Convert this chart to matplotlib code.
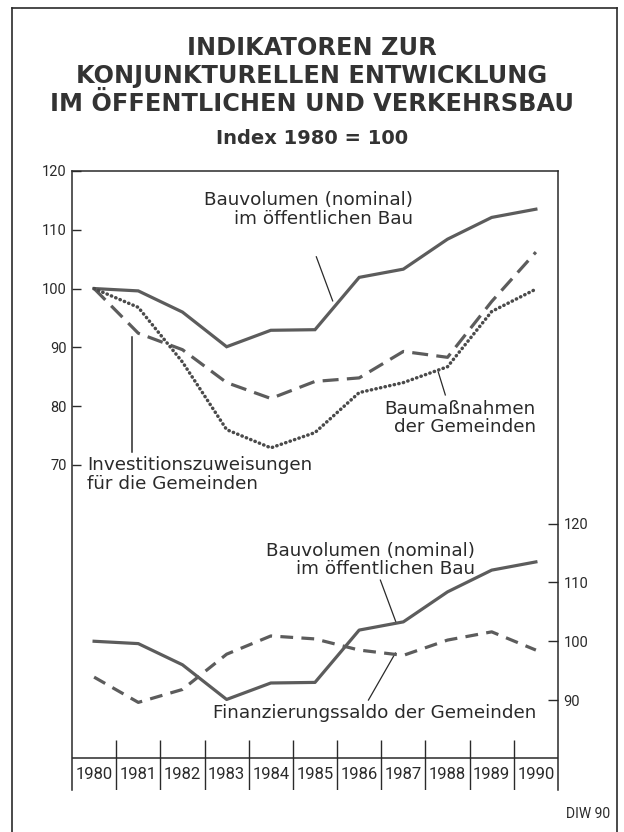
import matplotlib
matplotlib.use("Agg")
import matplotlib.pyplot as plt
from matplotlib.lines import Line2D

# index values, 1980 = 100
years = ["1980", "1981", "1982", "1983", "1984", "1985",
         "1986", "1987", "1988", "1989", "1990"]
bauvolumen = [100, 99.6, 96.0, 90.1, 92.9, 93.0, 101.9, 103.3, 108.4, 112.1, 113.5]
baumassnahmen = [100, 92.4, 89.6, 84.0, 81.3, 84.2, 84.8, 89.3, 88.3, 97.8, 106.2]
investitionen = [100, 96.8, 87.5, 76.0, 72.9, 75.5, 82.3, 84.0, 86.7, 96.1, 99.9]
finanzierungssaldo = [93.9, 89.6, 91.8, 97.8, 100.9, 100.4, 98.5, 97.6, 100.2, 101.6, 98.5]

left_ticks = [70, 80, 90, 100, 110, 120]
right_ticks = [90, 100, 110, 120]

LINE = "#5c5c5c"
TEXT = "#2a2a2a"
FONT = "DejaVu Sans"
NUM = "Roboto"

fig = plt.figure(figsize=(6.24, 8.32), dpi=100)
fig.patch.set_facecolor("white")

ax = fig.add_axes([0.1154, 0.0505, 0.7788, 0.744])
x = list(range(len(years)))
ax.set_xlim(-0.5, 10.5)
ax.set_ylim(14.7, 120)

# lower panel shares the axes, shifted by 60 index points
ax2 = ax.twinx()
ax2.set_ylim(74.7, 180)

ax.plot(x, bauvolumen, color=LINE, lw=2.3, solid_joinstyle="miter")
ax.plot(x, baumassnahmen, color=LINE, lw=2.3, dashes=(5, 2.6))
ax.plot(x, investitionen, color="#4a4a4a", lw=2.5, dashes=(0.1, 1.25),
        dash_capstyle="round")
ax2.plot(x, bauvolumen, color=LINE, lw=2.3)
ax2.plot(x, finanzierungssaldo, color=LINE, lw=2.3, dashes=(4, 2.6))

ax.spines["bottom"].set_visible(False)
for s in ax2.spines.values():
    s.set_visible(False)
for s in ["top", "left", "right"]:
    ax.spines[s].set_color(TEXT)
    ax.spines[s].set_linewidth(1.1)

ax.set_xticks([])
ax.set_yticks(left_ticks)
ax.set_yticklabels([str(t) for t in left_ticks], fontfamily=NUM, fontsize=10.5, color=TEXT)
ax.tick_params(axis="y", direction="in", length=6.5, width=1, color=TEXT, pad=4)

ax2.set_yticks(right_ticks)
ax2.set_yticklabels([str(t) for t in right_ticks], fontfamily=NUM, fontsize=10.5, color=TEXT)
ax2.tick_params(axis="y", direction="in", length=7.5, width=1, color=TEXT, pad=4)

# year axis with separators
ax.axhline(20.2, color=TEXT, lw=1.1)
ax.vlines([i + 0.5 for i in range(len(years) - 1)], 14.7, 23.2, color=TEXT, lw=1)
for i, yr in enumerate(years):
    ax.text(i, 17.3, yr, ha="center", va="center", fontfamily=NUM,
            fontsize=12, color=TEXT)

# annotations
txt = dict(fontfamily=FONT, fontsize=13.2, color=TEXT, linespacing=1.05)
ax.text(7.22, 113.5, "Bauvolumen (nominal)\nim öffentlichen Bau",
        ha="right", va="center", multialignment="right", **txt)
ax.plot([5.03, 5.40], [105.4, 97.9], color=TEXT, lw=0.9)

ax.text(10.0, 78.0, "Baumaßnahmen\nder Gemeinden",
        ha="right", va="center", multialignment="right", **txt)
ax.plot([7.79, 7.95], [85.8, 81.9], color=TEXT, lw=0.9)

ax.text(-0.16, 68.4, "Investitionszuweisungen\nfür die Gemeinden",
        ha="left", va="center", multialignment="left", **txt)
ax.plot([0.86, 0.86], [91.8, 72.2], color=TEXT, lw=1.1)

ax.text(8.62, 53.8, "Bauvolumen (nominal)\nim öffentlichen Bau",
        ha="right", va="center", multialignment="right", **txt)
ax.plot([6.48, 6.84], [50.4, 43.1], color=TEXT, lw=0.9)

ax.text(10.0, 27.8, "Finanzierungssaldo der Gemeinden",
        ha="right", va="center", **txt)
ax.plot([6.21, 6.82], [30.0, 38.0], color=TEXT, lw=0.9)

# title
title = ["INDIKATOREN ZUR", "KONJUNKTURELLEN ENTWICKLUNG",
         "IM ÖFFENTLICHEN UND VERKEHRSBAU"]
for k, line in enumerate(title):
    fig.text(0.5, 1 - (48 + 28 * k) / 832, line, ha="center", va="center",
             fontfamily="DejaVu Sans", fontweight="bold", fontsize=17.3, color="#333333")
fig.text(0.5, 1 - 138 / 832, "Index 1980 = 100", ha="center", va="center",
         fontfamily="DejaVu Sans", fontweight="bold", fontsize=14, color="#333333")

fig.text(610 / 624, 1 - 814 / 832, "DIW 90", ha="right", va="center",
         fontfamily=NUM, fontsize=10, color=TEXT)

# outer frame
fx = lambda p: p / 624
fy = lambda p: 1 - p / 832
fig.add_artist(Line2D([fx(12), fx(12)], [fy(8), 0], color=TEXT, lw=1.2))
fig.add_artist(Line2D([fx(617), fx(617)], [fy(8), 0], color=TEXT, lw=1.2))
fig.add_artist(Line2D([fx(12), fx(617)], [fy(8), fy(8)], color=TEXT, lw=1.2))

fig.savefig("out.png", dpi=100, facecolor="white")
